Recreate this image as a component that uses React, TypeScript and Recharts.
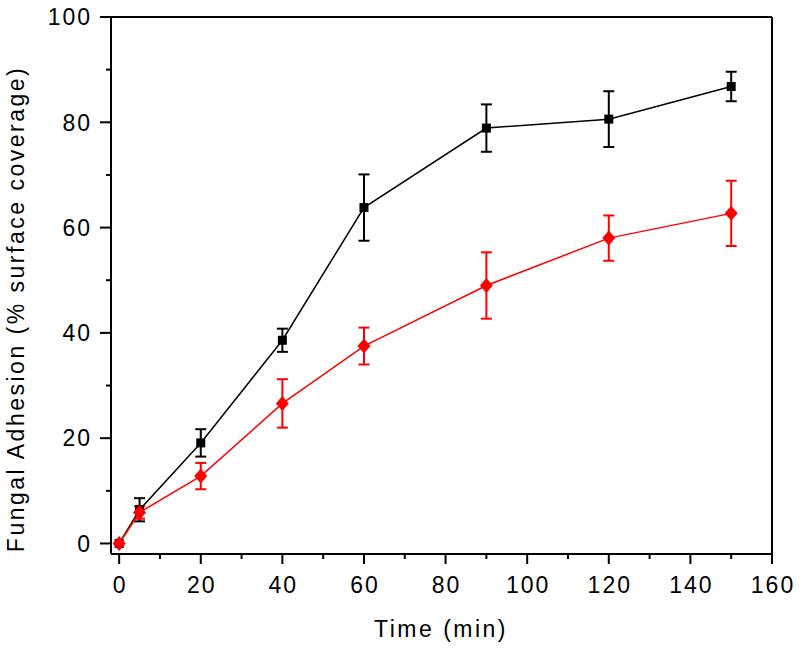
import React from 'react';
import { LineChart, Line, XAxis, YAxis, ErrorBar, ReferenceLine, Label } from 'recharts';

const times = [0, 5, 20, 40, 60, 90, 120, 150];
const blackMeans = [0, 6.4, 19.1, 38.6, 63.8, 78.9, 80.6, 86.8];
const blackErrors = [0, 2.2, 2.6, 2.2, 6.3, 4.5, 5.3, 2.8];
const redMeans = [0, 5.9, 12.8, 26.6, 37.5, 49.0, 58.0, 62.7];
const redErrors = [0, 1.2, 2.5, 4.6, 3.5, 6.3, 4.3, 6.2];

const xTicks = [0, 10, 20, 30, 40, 50, 60, 70, 80, 90, 100, 110, 120, 130, 140, 150, 160];
const yTicks = [0, 10, 20, 30, 40, 50, 60, 70, 80, 90, 100];

const xTitle = 'Time (min)';
const yTitle = 'Fungal Adhesion (% surface coverage)';

const FONT = '"Liberation Sans", Arial, sans-serif';

const data = times.map((t, i) => ({
  t,
  black: blackMeans[i],
  blackErr: blackErrors[i],
  red: redMeans[i],
  redErr: redErrors[i],
}));

const XTick = (props: any) => {
  const { x, y, payload } = props;
  const v = payload.value;
  const major = v % 20 === 0;
  return (
    <g>
      <line x1={x} x2={x} y1={y} y2={y + (major ? 10 : 5)} stroke="#000" strokeWidth={2} />
      {major && (
        <text x={x + 1} y={y + 39} textAnchor="middle" fontSize={23} letterSpacing={2} fontFamily={FONT} fill="#000">
          {v}
        </text>
      )}
    </g>
  );
};

const YTick = (props: any) => {
  const { x, y, payload } = props;
  const v = payload.value;
  const major = v % 20 === 0;
  return (
    <g>
      <line x1={x} x2={x - (major ? 11 : 5)} y1={y} y2={y} stroke="#000" strokeWidth={2} />
      {major && (
        <text x={x - 19} y={y} dy="0.36em" textAnchor="end" fontSize={23} letterSpacing={2} fontFamily={FONT} fill="#000">
          {v}
        </text>
      )}
    </g>
  );
};

const Square = (props: any) => {
  const { cx, cy, index } = props;
  if (cx == null || cy == null) return <g key={`s${index}`} />;
  return <rect key={`s${index}`} x={cx - 4.5} y={cy - 4.5} width={9} height={9} fill="#000" />;
};

const Diamond = (props: any) => {
  const { cx, cy, index } = props;
  if (cx == null || cy == null) return <g key={`d${index}`} />;
  return (
    <polygon
      key={`d${index}`}
      points={`${cx},${cy - 7.5} ${cx + 6.5},${cy} ${cx},${cy + 7.5} ${cx - 6.5},${cy}`}
      fill="#ff0000"
    />
  );
};

export default function App() {
  return (
    <div style={{ position: 'absolute', left: 0, top: 0, background: '#fff' }}>
      <LineChart
        width={800}
        height={651}
        data={data}
        margin={{ top: 17, right: 28, bottom: 0, left: 0 }}
        style={{ fontFamily: FONT }}
      >
        <XAxis
          dataKey="t"
          type="number"
          domain={[-2, 160]}
          ticks={xTicks}
          interval={0}
          tickSize={0}
          tickMargin={0}
          tick={<XTick />}
          tickLine={false}
          axisLine={{ stroke: '#000', strokeWidth: 2 }}
          height={97}
        >
          <Label
            content={() => (
              <text x={441} y={637} textAnchor="middle" fontSize={23} letterSpacing={2.5} fontFamily={FONT} fill="#000">
                {xTitle}
              </text>
            )}
          />
        </XAxis>
        <YAxis
          type="number"
          domain={[-2, 100]}
          ticks={yTicks}
          interval={0}
          tickSize={0}
          tickMargin={0}
          tick={<YTick />}
          tickLine={false}
          axisLine={{ stroke: '#000', strokeWidth: 2 }}
          width={111}
        >
          <Label
            content={() => (
              <text
                transform="translate(24,309) rotate(-90)"
                textAnchor="middle"
                fontSize={23}
                letterSpacing={2.5}
                fontFamily={FONT}
                fill="#000"
              >
                {yTitle}
              </text>
            )}
          />
        </YAxis>
        <ReferenceLine y={100} stroke="#000" strokeWidth={2} />
        <ReferenceLine x={160} stroke="#000" strokeWidth={2} />
        <Line
          type="linear"
          dataKey="black"
          stroke="#000"
          strokeWidth={1.5}
          dot={Square}
          activeDot={false}
          isAnimationActive={false}
        >
          <ErrorBar dataKey="blackErr" width={5.5} stroke="#000" strokeWidth={2} direction="y" />
        </Line>
        <Line
          type="linear"
          dataKey="red"
          stroke="#ff0000"
          strokeWidth={1.5}
          dot={Diamond}
          activeDot={false}
          isAnimationActive={false}
        >
          <ErrorBar dataKey="redErr" width={5.5} stroke="#ff0000" strokeWidth={2} direction="y" />
        </Line>
      </LineChart>
    </div>
  );
}
